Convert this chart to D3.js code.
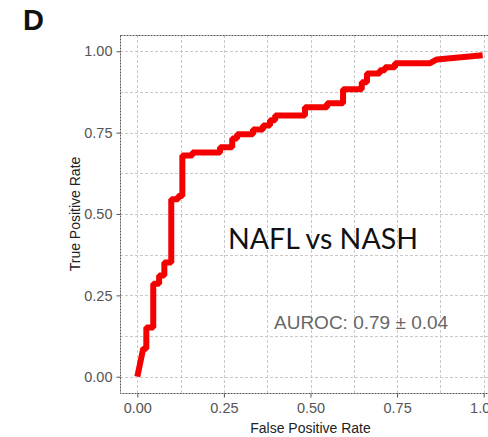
<!DOCTYPE html>
<html>
<head>
    <script src="https://d3js.org/d3.v7.min.js"></script>
    <style>
        body { margin: 0; padding: 0; background: #fff; overflow: hidden; }
        svg { display: block; }
        .tick text { font-family: "Liberation Sans", Arial, sans-serif; }
    </style>
</head>
<body>
    <script>
        // ROC curve vertices (false positive rate, true positive rate)
        var fpr = [0.000, 0.017, 0.026, 0.026, 0.046, 0.046, 0.063, 0.063, 0.078, 0.078,
            0.098, 0.098, 0.118, 0.118, 0.130, 0.130, 0.159, 0.159, 0.239, 0.239,
            0.274, 0.274, 0.288, 0.288, 0.334, 0.334, 0.363, 0.363, 0.383, 0.383,
            0.398, 0.398, 0.484, 0.484, 0.548, 0.548, 0.594, 0.594, 0.648, 0.648,
            0.663, 0.663, 0.700, 0.700, 0.715, 0.715, 0.744, 0.744, 0.844, 0.865, 0.997];
        var tpr = [0.000, 0.086, 0.086, 0.151, 0.151, 0.286, 0.286, 0.311, 0.311, 0.351,
            0.351, 0.545, 0.545, 0.555, 0.555, 0.680, 0.680, 0.689, 0.689, 0.705,
            0.705, 0.732, 0.732, 0.745, 0.745, 0.760, 0.760, 0.772, 0.772, 0.788,
            0.788, 0.803, 0.803, 0.828, 0.828, 0.840, 0.840, 0.883, 0.883, 0.905,
            0.905, 0.932, 0.932, 0.942, 0.942, 0.951, 0.951, 0.963, 0.963, 0.975, 0.988];

        var majorTicks = [0, 0.25, 0.5, 0.75, 1];
        var minorTicks = [0.125, 0.375, 0.625, 0.875];

        var panelLabel = "D";
        var groupLabel = "NAFL vs NASH";
        var aurocLabel = "AUROC: 0.79 \u00b1 0.04";
        var xTitle = "False Positive Rate";
        var yTitle = "True Positive Rate";

        var width = 488, height = 437;
        var pLeft = 120, pRight = 501, pTop = 35, pBottom = 393;

        var svg = d3.select("body").append("svg")
            .attr("width", width)
            .attr("height", height);

        var x = d3.scaleLinear().domain([-0.05, 1.05]).range([pLeft, pRight]);
        var y = d3.scaleLinear().domain([-0.05, 1.05]).range([pBottom, pTop]);

        // grid
        var grid = svg.append("g")
            .attr("stroke", "#c9c9c9")
            .attr("stroke-width", 1)
            .attr("stroke-dasharray", "3,2");
        majorTicks.concat(minorTicks).forEach(function (t) {
            grid.append("line")
                .attr("x1", Math.round(x(t)) + 0.5).attr("x2", Math.round(x(t)) + 0.5)
                .attr("y1", pTop).attr("y2", pBottom);
            grid.append("line")
                .attr("y1", Math.round(y(t)) + 0.5).attr("y2", Math.round(y(t)) + 0.5)
                .attr("x1", pLeft).attr("x2", pRight);
        });

        // panel border
        svg.append("rect")
            .attr("x", pLeft + 0.5).attr("y", pTop + 0.5)
            .attr("width", pRight - pLeft).attr("height", pBottom - pTop)
            .attr("fill", "none")
            .attr("stroke", "#555")
            .attr("stroke-dasharray", "2,1");

        // axes
        var xAxis = svg.append("g")
            .attr("transform", "translate(0," + (pBottom + 0.5) + ")")
            .call(d3.axisBottom(x).tickValues(majorTicks).tickFormat(d3.format(".2f")).tickSize(4).tickPadding(5));
        var yAxis = svg.append("g")
            .attr("transform", "translate(" + (pLeft + 0.5) + ",0)")
            .call(d3.axisLeft(y).tickValues(majorTicks).tickFormat(d3.format(".2f")).tickSize(4).tickPadding(4));
        [xAxis, yAxis].forEach(function (a) {
            a.select(".domain").remove();
            a.selectAll(".tick line").attr("stroke", "#555");
            a.selectAll(".tick text")
                .attr("fill", "#555")
                .style("font-size", "14.5px");
        });

        // axis titles
        svg.append("text")
            .attr("x", (pLeft + pRight) / 2)
            .attr("y", 433)
            .attr("text-anchor", "middle")
            .style("font-family", "'Liberation Sans', Arial, sans-serif")
            .style("font-size", "14px")
            .attr("fill", "#222")
            .text(xTitle);
        svg.append("text")
            .attr("transform", "translate(80," + ((pTop + pBottom) / 2) + ") rotate(-90)")
            .attr("text-anchor", "middle")
            .style("font-family", "'Liberation Sans', Arial, sans-serif")
            .style("font-size", "14px")
            .attr("fill", "#222")
            .text(yTitle);

        // ROC curve
        var line = d3.line()
            .x(function (d, i) { return x(fpr[i]); })
            .y(function (d, i) { return y(tpr[i]); });
        svg.append("path")
            .datum(fpr)
            .attr("d", line)
            .attr("fill", "none")
            .attr("stroke", "#f50000")
            .attr("stroke-width", 6)
            .attr("stroke-linejoin", "bevel");

        // annotations
        svg.append("text")
            .attr("x", 228).attr("y", 249)
            .style("font-family", "Lato, sans-serif")
            .style("font-size", "28.5px")
            .attr("fill", "#111")
            .text(groupLabel);
        svg.append("text")
            .attr("x", 274).attr("y", 329)
            .style("font-family", "'Liberation Sans', Arial, sans-serif")
            .style("font-size", "19px")
            .attr("fill", "#666")
            .text(aurocLabel);

        svg.append("text")
            .attr("x", 23).attr("y", 30)
            .style("font-family", "'Liberation Sans', Arial, sans-serif")
            .style("font-size", "29px")
            .style("font-weight", "bold")
            .attr("fill", "#111")
            .text(panelLabel);
    </script>
</body>
</html>
